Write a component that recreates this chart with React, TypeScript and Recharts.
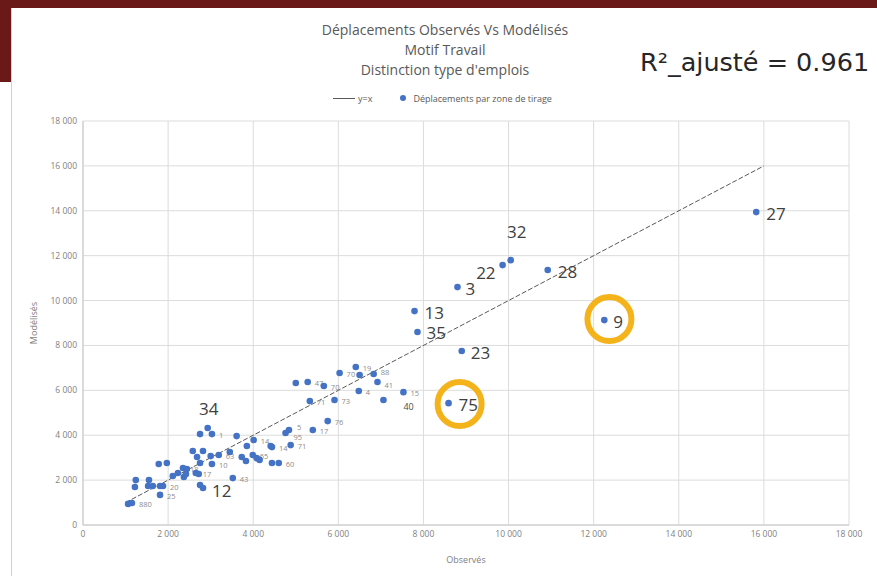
import React from 'react';
import {
  ScatterChart, Scatter, XAxis, YAxis, CartesianGrid, ReferenceLine, ReferenceDot,
} from 'recharts';

// Déplacements observés / modélisés par zone de tirage (motif travail)
const observes = [
  15820, 10050, 9860, 10920, 8800, 12250, 7790, 7860, 8900, 8590, 2930, 2750,
  6410, 6030, 6500, 6830, 6920, 5000, 5280, 5660, 6480, 7530, 5330, 5910, 7060,
  5750, 5400, 4840, 4760, 4880, 4440, 4440, 4600, 2750, 3030, 3610, 4010, 3850,
  2580, 2820, 2680, 3190, 3450, 3000, 3030, 2750, 3730, 3830, 3990, 4080, 4150,
  4410, 1780, 1970, 2350, 2440, 2230, 2110, 2370, 2420, 2650, 2720, 3520, 1240,
  1550, 1220, 1530, 1640, 1810, 1880, 1810, 2820, 1060, 1150,
];
const modelises = [
  13940, 11800, 11580, 11360, 10600, 9130, 9530, 8600, 7750, 5430, 4320, 1780,
  7040, 6770, 6680, 6730, 6370, 6330, 6370, 6190, 5970, 5920, 5520, 5570, 5570,
  4630, 4230, 4230, 4100, 3560, 3470, 2760, 2760, 4050, 4050, 3960, 3790, 3520,
  3300, 3300, 3030, 3120, 3250, 3070, 2720, 2760, 3030, 2850, 3120, 2980, 2900,
  3520, 2720, 2760, 2540, 2490, 2320, 2180, 2140, 2270, 2320, 2270, 2090, 2000,
  2000, 1690, 1740, 1740, 1740, 1740, 1340, 1650, 940, 980,
];
const zones = [
  '27', '32', '22', '28', '3', '9', '13', '35', '23', '75', '34', '12',
  '19', '70', '', '88', '41', '', '47', '70', '4', '15', '71', '73', '40',
  '76', '17', '5', '95', '71', '14', '', '60', '', '1', '', '14', '',
  '', '', '', '63', '', '', '10', '', '', '', '65', '', '',
  '', '', '', '18', '', '', '', '', '', '17', '', '43', '',
  '', '', '', '', '', '20', '25', '', '', '880',
];
const zonesEntourees = [
  { x: 12370, y: 9175 },
  { x: 8850, y: 5390 },
];
const ticks = [0, 2000, 4000, 6000, 8000, 10000, 12000, 14000, 16000, 18000];

// zones commentées : grand libellé, décalage propre
const bigLabels: Record<string, { dx: number; dy: number; anchor: 'start' | 'middle' | 'end' }> = {
  '27': { dx: 10, dy: 1, anchor: 'start' },
  '32': { dx: 6, dy: -29, anchor: 'middle' },
  '22': { dx: -7, dy: 7, anchor: 'end' },
  '28': { dx: 10, dy: 1, anchor: 'start' },
  '3': { dx: 8, dy: 1, anchor: 'start' },
  '9': { dx: 9, dy: 1, anchor: 'start' },
  '13': { dx: 10, dy: 1, anchor: 'start' },
  '35': { dx: 9, dy: 1, anchor: 'start' },
  '23': { dx: 9, dy: 1, anchor: 'start' },
  '75': { dx: 10, dy: 1, anchor: 'start' },
  '34': { dx: 1, dy: -20, anchor: 'middle' },
  '12': { dx: 12, dy: 5, anchor: 'start' },
};
// petits libellés déplacés pour ne pas se chevaucher
const smallOffsets: Record<string, { dx: number; dy: number }> = {
  '40': { dx: 20, dy: 7 },
  '95': { dx: 8, dy: 4 },
  '5': { dx: 8, dy: -3 },
  '88': { dx: 7, dy: -2 },
  '41': { dx: 7, dy: 3 },
};

const data = observes.map((x, i) => ({ x, y: modelises[i], zone: zones[i] }));

const fmt = (v: number) =>
  v >= 1000 ? `${Math.floor(v / 1000)}\u00A0${String(v % 1000).padStart(3, '0')}` : String(v);

const FONT = "'Open Sans', 'Liberation Sans', sans-serif";
const BLUE = '#4472C4';

const PointShape = (props: any) => {
  const { cx, cy, payload } = props;
  const big = bigLabels[payload.zone];
  const off = smallOffsets[payload.zone] || { dx: 7, dy: 1 };
  return (
    <g>
      <circle cx={cx} cy={cy} r={3.3} fill={BLUE} />
      {big ? (
        <text x={cx + big.dx} y={cy + big.dy} textAnchor={big.anchor} dominantBaseline="central"
          fontSize={17} fill="#404040" fontFamily={FONT}>{payload.zone}</text>
      ) : payload.zone ? (
        <text x={cx + off.dx} y={cy + off.dy} dominantBaseline="central"
          fontSize={payload.zone === '40' ? 9 : 7.5}
          fill={payload.zone === '40' ? '#4d4d4d' : '#8c8c8c'} fontFamily={FONT}>{payload.zone}</text>
      ) : null}
    </g>
  );
};

export default function App() {
  return (
    <div style={{ position: 'absolute', left: 0, top: 0, width: 877, height: 576, background: '#fff', overflow: 'hidden', fontFamily: FONT }}>
      <div style={{ position: 'absolute', left: 0, top: 0, width: 877, height: 8, background: '#6B1818' }} />
      <div style={{ position: 'absolute', left: 0, top: 0, width: 11, height: 82, background: '#6B1818' }} />
      <div style={{ position: 'absolute', left: 11, top: 8, width: 1, height: 568, background: '#d0d0d0' }} />

      <ScatterChart width={877} height={576} margin={{ top: 121, right: 28, bottom: 31, left: 43 }}
        style={{ position: 'absolute', left: 0, top: 0 }}>
        <CartesianGrid stroke="#dcdcdc" />
        <XAxis type="number" dataKey="x" domain={[0, 18000]} ticks={ticks} tickFormatter={fmt}
          height={20} tickSize={4} tickMargin={2} tickLine={false} axisLine={{ stroke: '#c8c8c8' }}
          tick={{ fontSize: 8.5, fill: '#7f7f7f', fontFamily: FONT }}
          label={{ value: 'Observés', position: 'bottom', offset: 12, fontSize: 9, fill: '#7f7f7f', fontFamily: FONT }} />
        <YAxis type="number" dataKey="y" domain={[0, 18000]} ticks={ticks} tickFormatter={fmt}
          width={40} tickSize={4} tickMargin={2} tickLine={false} axisLine={{ stroke: '#c8c8c8' }}
          tick={{ fontSize: 8.5, fill: '#7f7f7f', fontFamily: FONT }}
          label={{ value: 'Modélisés', angle: -90, position: 'insideLeft', offset: -9, fontSize: 9, fill: '#7f7f7f', fontFamily: FONT, style: { textAnchor: 'middle' } }} />
        <ReferenceLine segment={[{ x: 1000, y: 1000 }, { x: 16000, y: 16000 }]}
          stroke="#595959" strokeWidth={1} strokeDasharray="5 2" />
        <Scatter data={data} isAnimationActive={false} shape={PointShape} />
        {zonesEntourees.map((z, i) => (
          <ReferenceDot key={i} x={z.x} y={z.y} r={22} fill="none" stroke="#F5B31B" strokeWidth={6} />
        ))}
      </ScatterChart>

      <div style={{ position: 'absolute', left: 245, width: 400, top: 20, textAlign: 'center', fontSize: 14, lineHeight: '20px', color: '#595959' }}>
        <div>Déplacements Observés Vs Modélisés</div>
        <div>Motif Travail</div>
        <div>Distinction type d'emplois</div>
      </div>
      <div style={{ position: 'absolute', left: 640, top: 45, fontSize: 25.5, lineHeight: '34px', color: '#262626', whiteSpace: 'nowrap', fontFamily: "'DejaVu Sans', sans-serif" }}>
        R²_ajusté = 0.961
      </div>
      <div style={{ position: 'absolute', left: 333, top: 92, height: 12, display: 'flex', alignItems: 'center', fontSize: 9, color: '#595959', whiteSpace: 'nowrap' }}>
        <span style={{ display: 'inline-block', width: 22, height: 1, background: '#595959', marginRight: 3 }} />
        <span>y=x</span>
        <span style={{ display: 'inline-block', width: 6, height: 6, borderRadius: 3, background: BLUE, marginLeft: 28, marginRight: 7 }} />
        <span>Déplacements par zone de tirage</span>
      </div>
    </div>
  );
}
